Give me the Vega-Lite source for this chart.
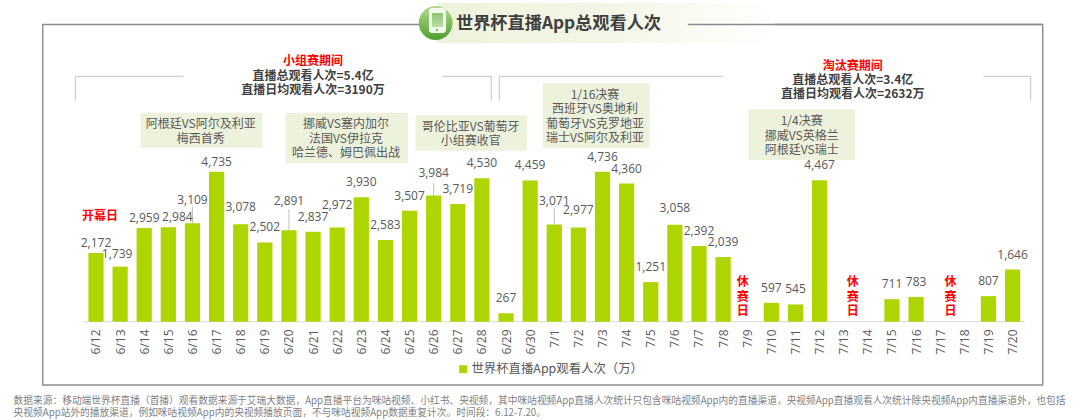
{
  "$schema": "https://vega.github.io/schema/vega-lite/v6.json",
  "description": "世界杯直播App总观看人次",
  "width": 1080,
  "height": 420,
  "autosize": {"type": "none"},
  "padding": 0,
  "background": "white",
  "config": {
    "view": {"stroke": null},
    "text": {"font": "Noto Sans CJK SC", "baseline": "middle"}
  },
  "data": {
    "values": [
      {"date": "2026-06-12", "value": 2172, "series": "世界杯直播App观看人次（万）"},
      {"date": "2026-06-13", "value": 1739, "series": "世界杯直播App观看人次（万）"},
      {"date": "2026-06-14", "value": 2959, "series": "世界杯直播App观看人次（万）"},
      {"date": "2026-06-15", "value": 2984, "series": "世界杯直播App观看人次（万）"},
      {"date": "2026-06-16", "value": 3109, "series": "世界杯直播App观看人次（万）"},
      {"date": "2026-06-17", "value": 4735, "series": "世界杯直播App观看人次（万）"},
      {"date": "2026-06-18", "value": 3078, "series": "世界杯直播App观看人次（万）"},
      {"date": "2026-06-19", "value": 2502, "series": "世界杯直播App观看人次（万）"},
      {"date": "2026-06-20", "value": 2891, "series": "世界杯直播App观看人次（万）"},
      {"date": "2026-06-21", "value": 2837, "series": "世界杯直播App观看人次（万）"},
      {"date": "2026-06-22", "value": 2972, "series": "世界杯直播App观看人次（万）"},
      {"date": "2026-06-23", "value": 3930, "series": "世界杯直播App观看人次（万）"},
      {"date": "2026-06-24", "value": 2583, "series": "世界杯直播App观看人次（万）"},
      {"date": "2026-06-25", "value": 3507, "series": "世界杯直播App观看人次（万）"},
      {"date": "2026-06-26", "value": 3984, "series": "世界杯直播App观看人次（万）"},
      {"date": "2026-06-27", "value": 3719, "series": "世界杯直播App观看人次（万）"},
      {"date": "2026-06-28", "value": 4530, "series": "世界杯直播App观看人次（万）"},
      {"date": "2026-06-29", "value": 267, "series": "世界杯直播App观看人次（万）"},
      {"date": "2026-06-30", "value": 4459, "series": "世界杯直播App观看人次（万）"},
      {"date": "2026-07-01", "value": 3071, "series": "世界杯直播App观看人次（万）"},
      {"date": "2026-07-02", "value": 2977, "series": "世界杯直播App观看人次（万）"},
      {"date": "2026-07-03", "value": 4736, "series": "世界杯直播App观看人次（万）"},
      {"date": "2026-07-04", "value": 4360, "series": "世界杯直播App观看人次（万）"},
      {"date": "2026-07-05", "value": 1251, "series": "世界杯直播App观看人次（万）"},
      {"date": "2026-07-06", "value": 3058, "series": "世界杯直播App观看人次（万）"},
      {"date": "2026-07-07", "value": 2392, "series": "世界杯直播App观看人次（万）"},
      {"date": "2026-07-08", "value": 2039, "series": "世界杯直播App观看人次（万）"},
      {"date": "2026-07-10", "value": 597, "series": "世界杯直播App观看人次（万）"},
      {"date": "2026-07-11", "value": 545, "series": "世界杯直播App观看人次（万）"},
      {"date": "2026-07-12", "value": 4467, "series": "世界杯直播App观看人次（万）"},
      {"date": "2026-07-15", "value": 711, "series": "世界杯直播App观看人次（万）"},
      {"date": "2026-07-16", "value": 783, "series": "世界杯直播App观看人次（万）"},
      {"date": "2026-07-19", "value": 807, "series": "世界杯直播App观看人次（万）"},
      {"date": "2026-07-20", "value": 1646, "series": "世界杯直播App观看人次（万）"}
    ]
  },
  "datasets": {
    "frame": [
      {"date": "2026-06-09T19:00:00Z", "date2": "2026-07-21T06:00:00Z", "value": 9384, "value2": -1999}
    ],
    "frameTop": [
      {"date": "2026-07-06T13:00:00Z", "date2": "2026-07-21T06:00:00Z", "value": 9384}
    ],
    "baseline": [
      {"date": "2026-06-11T12:00:00Z", "date2": "2026-07-20T12:00:00Z", "value": 0}
    ],
    "brackets": [
      {"date": "2026-06-11T03:30:00Z", "date2": "2026-06-15T15:00:00Z", "value": 7749, "value2": 7749},
      {"date": "2026-06-11T03:30:00Z", "date2": "2026-06-11T03:30:00Z", "value": 7749, "value2": 6978},
      {"date": "2026-06-26T09:00:00Z", "date2": "2026-06-28T09:24:00Z", "value": 7749, "value2": 7749},
      {"date": "2026-06-28T09:24:00Z", "date2": "2026-06-28T09:24:00Z", "value": 7749, "value2": 6978},
      {"date": "2026-06-28T17:18:00Z", "date2": "2026-07-08T00:00:00Z", "value": 7749, "value2": 7749},
      {"date": "2026-06-28T17:18:00Z", "date2": "2026-06-28T17:18:00Z", "value": 7749, "value2": 6978},
      {"date": "2026-07-18T19:00:00Z", "date2": "2026-07-20T18:00:00Z", "value": 7749, "value2": 7749},
      {"date": "2026-07-20T18:00:00Z", "date2": "2026-07-20T18:00:00Z", "value": 7749, "value2": 6978}
    ],
    "boxes": [
      {"date": "2026-06-13T20:18:00Z", "date2": "2026-06-18T21:36:00Z", "value": 6599, "value2": 5494},
      {"date": "2026-06-19T20:36:00Z", "date2": "2026-06-24T22:24:00Z", "value": 6599, "value2": 5002},
      {"date": "2026-06-25T06:00:00Z", "date2": "2026-06-29T20:48:00Z", "value": 6517, "value2": 5400},
      {"date": "2026-06-30T12:36:00Z", "date2": "2026-07-04T22:42:00Z", "value": 7528, "value2": 5475},
      {"date": "2026-07-09T01:00:00Z", "date2": "2026-07-13T11:12:00Z", "value": 6707, "value2": 5106}
    ],
    "notes": [
      {"date": "2026-06-16T08:18:00Z", "value": 6243, "text": "阿根廷VS阿尔及利亚\n梅西首秀"},
      {"date": "2026-06-22T08:48:00Z", "value": 6233, "text": "挪威VS塞内加尔\n法国VS伊拉克\n哈兰德、姆巴佩出战"},
      {"date": "2026-06-27T12:48:00Z", "value": 6157, "text": "哥伦比亚VS葡萄牙\n小组赛收官"},
      {"date": "2026-07-02T16:30:00Z", "value": 7168, "text": "1/16决赛\n西班牙VS奥地利\n葡萄牙VS克罗地亚\n瑞士VS阿尔及利亚"},
      {"date": "2026-07-11T06:12:00Z", "value": 6337, "text": "1/4决赛\n挪威VS英格兰\n阿根廷VS瑞士"}
    ],
    "heads": [
      {"date": "2026-06-21T00:00:00Z", "value": 7758, "text": "直播总观看人次=5.4亿\n直播日均观看人次=3190万"},
      {"date": "2026-07-13T09:00:00Z", "value": 7632, "text": "直播总观看人次=3.4亿\n直播日均观看人次=2632万"}
    ],
    "reds": [
      {"date": "2026-06-21T00:00:00Z", "value": 8241, "text": "小组赛期间"},
      {"date": "2026-07-13T09:00:00Z", "value": 8083, "text": "淘汰赛期间"},
      {"date": "2026-06-12T04:00:00Z", "value": 3338, "text": "开幕日"},
      {"date": "2026-07-08T19:36:00Z", "value": 1254, "text": "休\n赛\n日"},
      {"date": "2026-07-13T09:00:00Z", "value": 1254, "text": "休\n赛\n日"},
      {"date": "2026-07-17T10:12:00Z", "value": 1254, "text": "休\n赛\n日"}
    ],
    "leaders": [
      {"date": "2026-06-16", "value": 3109, "value2": 3631},
      {"date": "2026-06-20", "value": 2891, "value2": 3536},
      {"date": "2026-06-26", "value": 3984, "value2": 4389},
      {"date": "2026-07-01", "value": 3071, "value2": 3600}
    ],
    "banner": [
      {"date": "2026-06-26T03:00:00Z", "date2": "2026-07-10T03:36:00Z", "value": 10063, "value2": 8800}
    ],
    "badge": [
      {"date": "2026-06-26T02:00:00Z", "value": 9432}
    ],
    "phone": [
      {"date": "2026-06-25T19:18:00Z", "date2": "2026-06-26T12:18:00Z", "value": 9905, "value2": 9116}
    ],
    "screen": [
      {"date": "2026-06-25T22:18:00Z", "date2": "2026-06-26T09:18:00Z", "value": 9748, "value2": 9305}
    ],
    "homeKey": [
      {"date": "2026-06-26T03:18:00Z", "value": 9211}
    ],
    "title": [
      {"date": "2026-06-26T22:12:00Z", "value": 9400, "text": "世界杯直播App总观看人次"}
    ],
    "footer": [
      {"date": "2026-06-08T14:00:00Z", "value": -2517, "text": "数据来源：移动端世界杯直播（首播）观看数据来源于艾瑞大数据，App直播平台为咪咕视频、小红书、央视频，其中咪咕视频App直播人次统计只包含咪咕视频App内的直播渠道，央视频App直播观看人次统计除央视频App内直播渠道外，也包括"},
      {"date": "2026-06-08T14:00:00Z", "value": -2886, "text": "央视频App站外的播放渠道，例如咪咕视频App内的央视频播放页面，不与咪咕视频App数据重复计次。时间段：6.12-7.20。"}
    ]
  },
  "encoding": {
    "x": {
      "field": "date",
      "type": "temporal",
      "title": null,
      "scale": {
        "type": "utc",
        "padding": 0,
        "domain": ["2026-06-08T00:30:00Z", "2026-07-22T19:06:00Z"]
      },
      "axis": {
        "offset": -98,
        "domain": false,
        "ticks": false,
        "grid": false,
        "title": null,
        "format": "%-m/%-d",
        "labelAngle": 270,
        "labelAlign": "right",
        "labelBaseline": "middle",
        "labelPadding": 7,
        "labelOverlap": false,
        "labelBound": false,
        "labelFlush": false,
        "labelFont": "Open Sans",
        "labelFontSize": 12,
        "labelColor": "#595959",
        "values": [
          "2026-06-12", "2026-06-13", "2026-06-14", "2026-06-15", "2026-06-16", "2026-06-17", "2026-06-18", "2026-06-19",
          "2026-06-20", "2026-06-21", "2026-06-22", "2026-06-23", "2026-06-24", "2026-06-25", "2026-06-26", "2026-06-27",
          "2026-06-28", "2026-06-29", "2026-06-30", "2026-07-01", "2026-07-02", "2026-07-03", "2026-07-04", "2026-07-05",
          "2026-07-06", "2026-07-07", "2026-07-08", "2026-07-09", "2026-07-10", "2026-07-11", "2026-07-12", "2026-07-13",
          "2026-07-14", "2026-07-15", "2026-07-16", "2026-07-17", "2026-07-18", "2026-07-19", "2026-07-20"
        ]
      }
    },
    "y": {
      "field": "value",
      "type": "quantitative",
      "title": null,
      "axis": null,
      "scale": {"domain": [-3104, 10158], "nice": false, "zero": false}
    }
  },
  "layer": [
    {
      "data": {"name": "frame"},
      "mark": {"type": "rect", "fill": null, "fillOpacity": 0, "stroke": "#8c8c8c", "strokeWidth": 1.4},
      "encoding": {"x2": {"field": "date2"}, "y2": {"field": "value2"}}
    },
    {
      "data": {"name": "brackets"},
      "mark": {"type": "rule", "color": "#cfcfc6", "strokeWidth": 1.2},
      "encoding": {"x2": {"field": "date2"}, "y2": {"field": "value2"}}
    },
    {
      "data": {"name": "baseline"},
      "mark": {"type": "rule", "color": "#d9d9d9", "strokeWidth": 1},
      "encoding": {"x2": {"field": "date2"}}
    },
    {
      "data": {"name": "boxes"},
      "mark": {"type": "rect", "color": "#edf2dd"},
      "encoding": {"x2": {"field": "date2"}, "y2": {"field": "value2"}}
    },
    {
      "mark": {"type": "bar", "width": 15.2},
      "encoding": {
        "color": {
          "field": "series",
          "type": "nominal",
          "scale": {"range": ["#aed500"]},
          "legend": {
            "orient": "none",
            "legendX": 457,
            "legendY": 363,
            "title": null,
            "symbolType": "square",
            "symbolSize": 64,
            "symbolStrokeWidth": 0,
            "labelFont": "Noto Sans CJK SC",
            "labelFontSize": 12.4,
            "labelColor": "#595959",
            "labelLimit": 300,
            "labelOffset": 2
          }
        }
      }
    },
    {
      "data": {"name": "leaders"},
      "mark": {"type": "rule", "color": "#bfbfbf", "strokeWidth": 1},
      "encoding": {"y2": {"field": "value2"}}
    },
    {
      "transform": [{"filter": "indexof([2172,2959,4735,2984,1739,3109,3071,3984,2972,2891,3078,2977,3058], datum.value) < 0"}],
      "mark": {"type": "text", "font": "Open Sans", "fontSize": 12, "color": "#595959", "dy": -15},
      "encoding": {"text": {"field": "value", "type": "quantitative", "format": ","}}
    },
    {
      "transform": [{"filter": {"field": "value", "oneOf": [2172, 2959, 4735]}}],
      "mark": {"type": "text", "font": "Open Sans", "fontSize": 12, "color": "#595959", "dy": -10},
      "encoding": {"text": {"field": "value", "type": "quantitative", "format": ","}}
    },
    {
      "transform": [{"filter": {"field": "value", "oneOf": [2984]}}],
      "mark": {"type": "text", "font": "Open Sans", "fontSize": 12, "color": "#595959", "dy": -10, "dx": 9},
      "encoding": {"text": {"field": "value", "type": "quantitative", "format": ","}}
    },
    {
      "transform": [{"filter": {"field": "value", "oneOf": [1739]}}],
      "mark": {"type": "text", "font": "Open Sans", "fontSize": 12, "color": "#595959", "dy": -13, "dx": -3},
      "encoding": {"text": {"field": "value", "type": "quantitative", "format": ","}}
    },
    {
      "transform": [{"filter": {"field": "value", "oneOf": [3109, 3071, 3984, 2972]}}],
      "mark": {"type": "text", "font": "Open Sans", "fontSize": 12, "color": "#595959", "dy": -23},
      "encoding": {"text": {"field": "value", "type": "quantitative", "format": ","}}
    },
    {
      "transform": [{"filter": {"field": "value", "oneOf": [2891]}}],
      "mark": {"type": "text", "font": "Open Sans", "fontSize": 12, "color": "#595959", "dy": -29},
      "encoding": {"text": {"field": "value", "type": "quantitative", "format": ","}}
    },
    {
      "transform": [{"filter": {"field": "value", "oneOf": [3078, 2977, 3058]}}],
      "mark": {"type": "text", "font": "Open Sans", "fontSize": 12, "color": "#595959", "dy": -17},
      "encoding": {"text": {"field": "value", "type": "quantitative", "format": ","}}
    },
    {
      "data": {"name": "notes"},
      "mark": {"type": "text", "fontSize": 12, "color": "#595959", "lineBreak": "\n", "lineHeight": 14.6},
      "encoding": {"text": {"field": "text"}}
    },
    {
      "data": {"name": "heads"},
      "mark": {"type": "text", "fontSize": 12, "fontWeight": "bold", "color": "#404040", "lineBreak": "\n", "lineHeight": 14.2},
      "encoding": {"text": {"field": "text"}}
    },
    {
      "data": {"name": "reds"},
      "mark": {"type": "text", "fontSize": 12, "fontWeight": "bold", "color": "#ff0000", "lineBreak": "\n", "lineHeight": 14.6},
      "encoding": {"text": {"field": "text"}}
    },
    {
      "data": {"name": "banner"},
      "mark": {
        "type": "rect",
        "color": {
          "gradient": "linear", "x1": 0, "x2": 1, "y1": 0, "y2": 0,
          "stops": [
            {"offset": 0, "color": "#eef3dc"},
            {"offset": 0.5, "color": "#f3f6e6"},
            {"offset": 1, "color": "#ffffff"}
          ]
        }
      },
      "encoding": {"x2": {"field": "date2"}, "y2": {"field": "value2"}}
    },
    {
      "data": {"name": "frameTop"},
      "mark": {"type": "rule", "color": "#8c8c8c", "strokeWidth": 1.4},
      "encoding": {"x2": {"field": "date2"}}
    },
    {
      "data": {"name": "badge"},
      "mark": {
        "type": "point",
        "shape": "circle",
        "filled": true,
        "opacity": 1,
        "size": 1150,
        "color": {
          "gradient": "linear", "x1": 0, "x2": 0, "y1": 0, "y2": 1,
          "stops": [
            {"offset": 0, "color": "#b4dc8c"},
            {"offset": 1, "color": "#4f9e2f"}
          ]
        }
      }
    },
    {
      "data": {"name": "phone"},
      "mark": {"type": "rect", "color": "#f4f9ee", "cornerRadius": 3},
      "encoding": {"x2": {"field": "date2"}, "y2": {"field": "value2"}}
    },
    {
      "data": {"name": "screen"},
      "mark": {
        "type": "rect",
        "color": {
          "gradient": "linear", "x1": 0, "x2": 0, "y1": 0, "y2": 1,
          "stops": [
            {"offset": 0, "color": "#8cc673"},
            {"offset": 1, "color": "#bcdca6"}
          ]
        }
      },
      "encoding": {"x2": {"field": "date2"}, "y2": {"field": "value2"}}
    },
    {
      "data": {"name": "homeKey"},
      "mark": {"type": "point", "shape": "circle", "filled": true, "opacity": 1, "size": 7, "color": "#7fbf5f"}
    },
    {
      "data": {"name": "title"},
      "mark": {"type": "text", "fontSize": 17.2, "fontWeight": "bold", "color": "#404040", "align": "left"},
      "encoding": {"text": {"field": "text"}}
    },
    {
      "data": {"name": "footer"},
      "mark": {"type": "text", "fontSize": 9.72, "color": "#7f7f7f", "align": "left"},
      "encoding": {"text": {"field": "text"}}
    }
  ]
}
